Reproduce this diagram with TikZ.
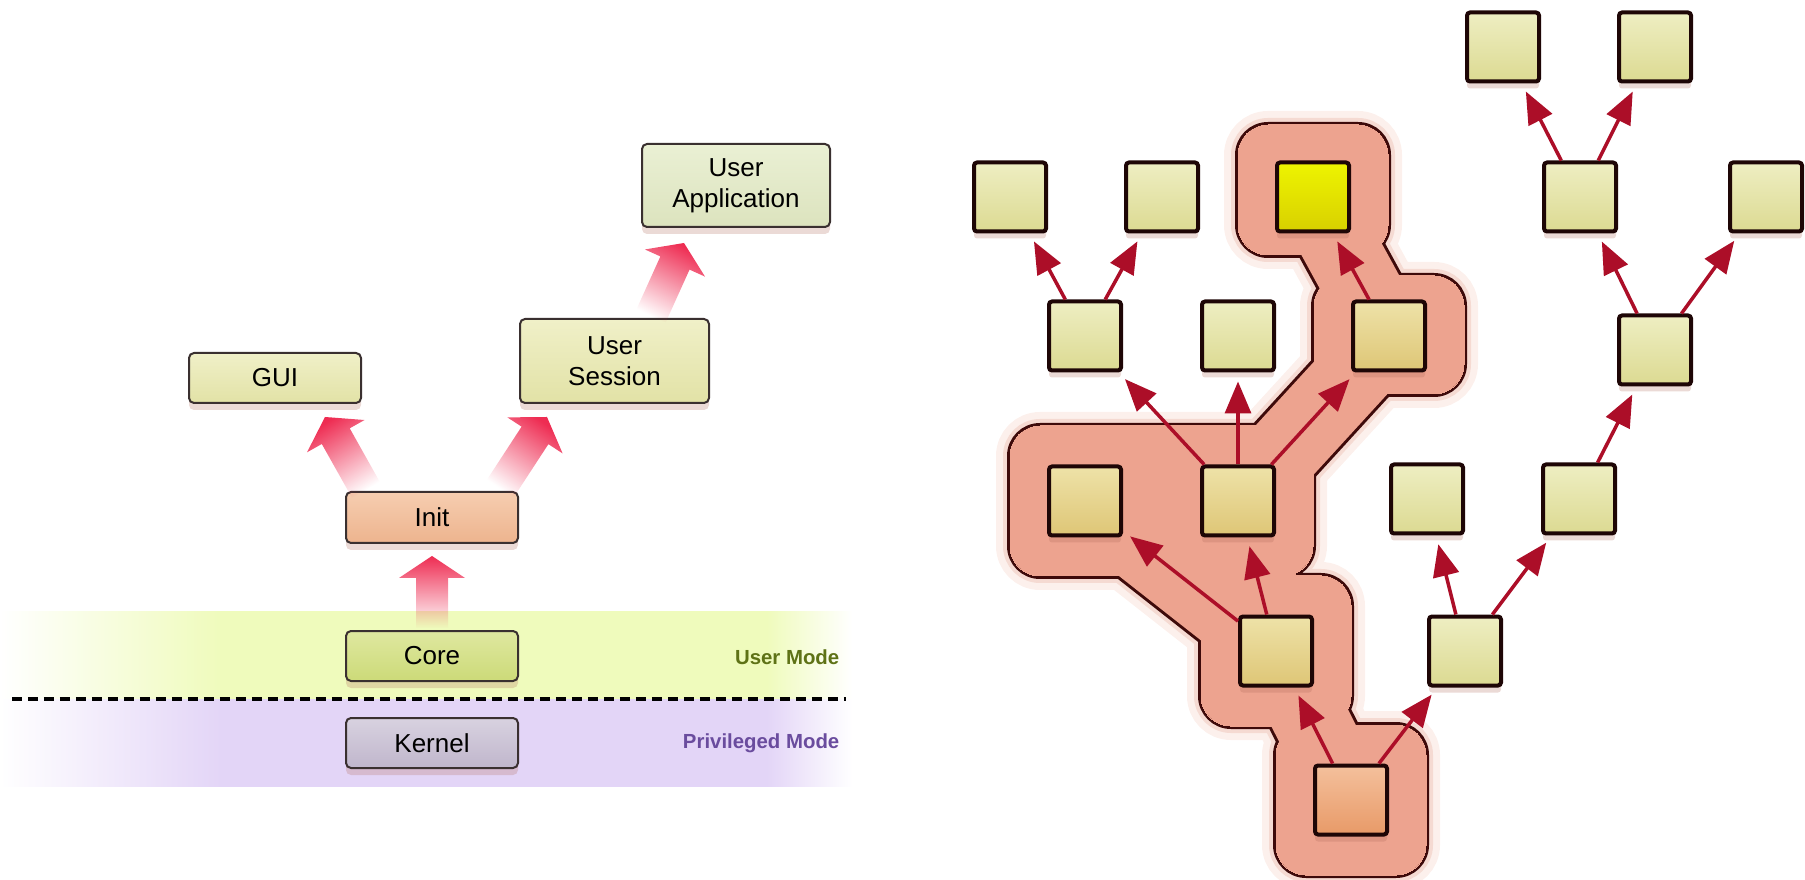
\documentclass[tikz,border=0pt]{standalone}
\usepackage{fontspec}
\setmainfont{Liberation Sans}
\usetikzlibrary{arrows.meta,calc,fadings,shadows}

\definecolor{bandgreen}{HTML}{EFFBBC}
\definecolor{bandpurple}{HTML}{E3D5F7}
\definecolor{fatred}{HTML}{EE2C52}
\definecolor{arrowred}{HTML}{AC0E28}
\definecolor{boxline}{HTML}{1E0606}
\definecolor{lboxline}{HTML}{3A3030}
\definecolor{blobfill}{HTML}{EDA38F}
\definecolor{blobline}{HTML}{3E0A0A}
\definecolor{blobhalo}{HTML}{F5DAD2}
\definecolor{blobglow}{HTML}{FCF0EC}
\definecolor{shadowred}{HTML}{B06A5A}
\definecolor{usergreen}{HTML}{5E7216}
\definecolor{privpurple}{HTML}{6A4C9E}
% box fills
\definecolor{plaintop}{HTML}{EEEEC2}
\definecolor{plainbot}{HTML}{DCDA92}
\definecolor{goldtop}{HTML}{EEE2A8}
\definecolor{goldbot}{HTML}{DEC676}
\definecolor{roottop}{HTML}{F4C09C}
\definecolor{rootbot}{HTML}{E89A68}
\definecolor{brighttop}{HTML}{EEF400}
\definecolor{brightbot}{HTML}{D8D000}
\definecolor{guitop}{HTML}{F0F0C8}
\definecolor{guibot}{HTML}{E2E2A6}
\definecolor{apptop}{HTML}{EAF0D4}
\definecolor{appbot}{HTML}{DCE3BE}
\definecolor{inittop}{HTML}{F6CDB0}
\definecolor{initbot}{HTML}{EDB48E}
\definecolor{coretop}{HTML}{DFE8A0}
\definecolor{corebot}{HTML}{CCDA78}
\definecolor{kerneltop}{HTML}{D8D2E0}
\definecolor{kernelbot}{HTML}{C0B6CC}

% soft bands for the two modes
\pgfdeclarehorizontalshading{gband}{100bp}{color(0bp)=(white); color(25bp)=(white); color(38bp)=(bandgreen); color(70bp)=(bandgreen); color(75bp)=(white); color(100bp)=(white)}
\pgfdeclarehorizontalshading{pband}{100bp}{color(0bp)=(white); color(25bp)=(white); color(38bp)=(bandpurple); color(70bp)=(bandpurple); color(75bp)=(white); color(100bp)=(white)}

\tikzfading[name=fade up, top color=transparent!0, bottom color=transparent!100]

\pgfdeclarelayer{background}
\pgfsetlayers{background,main}

\tikzset{
  boxshadow/.style={drop shadow={shadow xshift=0mm, shadow yshift=-0.7mm, fill=shadowred, opacity=0.25}},
  lbox/.style={draw=lboxline, line width=0.2mm, rounded corners=0.5mm, inner sep=0pt, align=center,
    minimum width=17.2mm, minimum height=5mm, font=\fontsize{7.4}{8.8}\selectfont, boxshadow},
  tbox/.style={draw=boxline, line width=0.4mm, rounded corners=0.3mm, inner sep=0pt,
    minimum width=7.2mm, minimum height=6.9mm, boxshadow},
  tarrow/.style={draw=arrowred, line width=0.35mm, -{Triangle[length=3.2mm, width=2.6mm]}, shorten >=0.9mm},
  modelabel/.style={anchor=east, inner sep=0pt, font=\fontsize{5.8}{7}\selectfont\bfseries}
}

% fat fading arrow from #1 to #2, fading turned by #3
\newcommand{\fatarrow}[3]{%
  \coordinate (fa neck) at ($(#2)!2.2mm!(#1)$);
  \fill[fatred, path fading=fade up, fading angle=#3]
    ($(#1)!1.6mm!90:(#2)$) -- ($(fa neck)!1.6mm!90:(#2)$) -- ($(fa neck)!3.3mm!90:(#2)$) -- (#2)
    -- ($(fa neck)!3.3mm!-90:(#2)$) -- ($(fa neck)!1.6mm!-90:(#2)$) -- ($(#1)!1.6mm!-90:(#2)$) -- cycle;
}

% the highlighted group, grown by #1
\newcommand{\blobshape}[2]{%
  \path[fill=#2, draw=#2, line width=#1, rounded corners=3mm]
    ($(c.center)+(-75,-75)$) rectangle ($(d.center)+(75,75)$)
    ($(a.center)+(-75,-75)$) rectangle ($(a.center)+(75,75)$)
    ($(r.center)+(-75,-75)$) rectangle ($(r.center)+(75,75)$)
    ($(i.center)+(-75,-60)$) rectangle ($(i.center)+(75,58)$)
    ($(m.center)+(-75,-72)$) rectangle ($(m.center)+(75,58)$);
  \draw[#2, line width=7.6mm+#1, line cap=round, line join=round]
    (r.center) -- (a.center) -- (c.center)
    (a.center) -- (d.center) -- (i.center) -- (m.center);
}

\begin{document}
\begin{tikzpicture}[x=0.1mm, y=-0.1mm]
\useasboundingbox (0,0) rectangle (1805,880);

% mode bands and the dashed border
\shade[shading=gband] (0,612) rectangle (852,699);
\shade[shading=pband] (0,699) rectangle (852,786);
\draw[line width=0.4mm, dash pattern=on 1mm off 0.6mm] (12,699) -- (846,699);

% left boxes
\node[lbox, minimum width=18.8mm, minimum height=8.3mm, top color=apptop, bottom color=appbot] (app) at (736,185.5) {User\\Application};
\node[lbox, minimum width=18.9mm, minimum height=8.4mm, top color=guitop, bottom color=guibot] (session) at (614.5,361) {User\\Session};
\node[lbox, top color=guitop, bottom color=guibot] (gui) at (275,378) {GUI};
\node[lbox, minimum height=5.1mm, top color=inittop, bottom color=initbot] (init) at (432,517.5) {Init};
\node[lbox, top color=coretop, bottom color=corebot] (core) at (432,656) {Core};
\node[lbox, top color=kerneltop, bottom color=kernelbot] (kernel) at (432,743) {Kernel};

% mode labels
\node[modelabel, text=usergreen] (usermode) at (840,657) {User Mode};
\node[modelabel, text=privpurple] (privmode) at (840,743) {Privileged Mode};

% fat arrows
\coordinate (t1) at ($(core.north)+(0,-2)$);
\coordinate (h1) at ($(init.south)+(0,12)$);
\coordinate (t2) at ($(init.north)+(-66,-1)$);
\coordinate (h2) at ($(gui.south)+(50,13)$);
\coordinate (t3) at ($(init.north)+(68,-2)$);
\coordinate (h3) at ($(session.south)+(-67.5,13)$);
\coordinate (t4) at ($(session.north)+(36.5,-2)$);
\coordinate (h4) at ($(app.south)+(-52,15)$);
\fatarrow{t1}{h1}{0}
\fatarrow{t2}{h2}{29}
\fatarrow{t3}{h3}{-33}
\fatarrow{t4}{h4}{-24}

% right tree
\foreach \name/\x/\y in {b/1465/651, e/1427/499, f/1579/499, g/1085/336, h/1238/336, j/1655/350,
    k/1010/197, l/1162/197, n/1580/197, o/1766/197, p/1503/47, q/1655/47}
  \node[tbox, top color=plaintop, bottom color=plainbot] (\name) at (\x,\y) {};
\foreach \name/\x/\y in {a/1276/651, c/1085/501, d/1238/501, i/1389/336}
  \node[tbox, top color=goldtop, bottom color=goldbot] (\name) at (\x,\y) {};
\node[tbox, top color=roottop, bottom color=rootbot] (r) at (1351,800) {};
\node[tbox, top color=brighttop, bottom color=brightbot] (m) at (1313,197) {};

\foreach \from/\to in {r/a, r/b, a/c, a/d, d/g, d/h, d/i, g/k, g/l, i/m, b/e, b/f, f/j, j/n, j/o, n/p, n/q}
  \draw[tarrow] (\from) -- (\to);

% highlighted group behind the tree
\begin{pgfonlayer}{background}
  \blobshape{2.8mm}{blobglow}
  \blobshape{1.4mm}{blobhalo}
  \blobshape{0.6mm}{blobline}
  \blobshape{0mm}{blobfill}
\end{pgfonlayer}

\end{tikzpicture}
\end{document}
